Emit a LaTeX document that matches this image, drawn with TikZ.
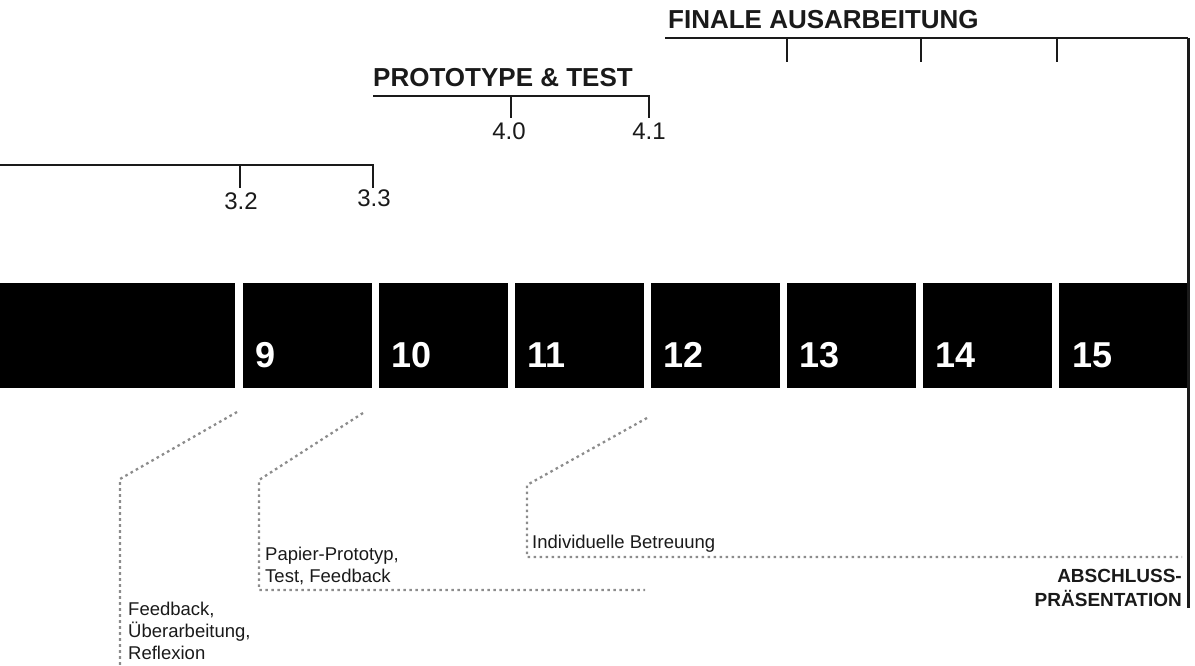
\documentclass[tikz,border=0pt]{standalone}
\usepackage{fontspec}
\setmainfont{Liberation Sans}
\definecolor{ink}{HTML}{1A1A1A}
\definecolor{leadgray}{HTML}{8C8C8C}
\tikzset{
  weekbox/.style={fill=black,draw=none,inner sep=0pt,minimum height=105pt,anchor=north west},
  weeknum/.style={text=white,font=\fontsize{36}{36}\selectfont\bfseries,anchor=base west,inner sep=0pt},
  phase/.style={text=ink,font=\fontsize{26}{26}\selectfont\bfseries,anchor=base west,inner sep=0pt},
  subnum/.style={text=ink,font=\fontsize{24}{24}\selectfont,anchor=base,inner sep=0pt},
  bracket/.style={draw=ink,line width=1.6pt},
  leader/.style={draw=leadgray,line width=2.3pt,dash pattern=on 2.6pt off 3.4pt},
  note/.style={text=ink,font=\fontsize{18.5}{22}\selectfont,align=left,anchor=base west,inner sep=0pt},
}
\begin{document}
\begin{tikzpicture}[x=1pt,y=-1pt]
\useasboundingbox (0,0) rectangle (1195,666);
% coordinates
\coordinate (A0) at (   0,165);%
\coordinate (A1) at ( 240,165);%
\coordinate (A2) at ( 373,165);%
\coordinate (B0) at ( 373, 96);%
\coordinate (B1) at ( 511, 96);%
\coordinate (B2) at ( 649, 96);%
\coordinate (C0) at ( 665, 38);%
\coordinate (C1) at ( 787, 38);%
\coordinate (C2) at ( 921, 38);%
\coordinate (C3) at (1057, 38);%
\coordinate (C4) at (1188, 38);%
\coordinate (CE) at (1188,608);%
% weeks
\node[weekbox,minimum width=235pt] (w0) at (0,283) {};
\foreach \n [count=\i from 0] in {9,...,14}{
  \node[weekbox,minimum width=129pt] (w\n) at ({243+136*\i},283) {};
  \node[weeknum] (l\n) at ([xshift=12pt,yshift=21pt]w\n.south west) {\n};
}
\node[weekbox,minimum width=128pt] (w15) at (1059,283) {};
\node[weeknum] (l15) at ([xshift=13pt,yshift=21pt]w15.south west) {15};
% brackets
\draw[bracket] (A0) -- (A2) -- ++(0,23);
\draw[bracket] (A1) -- ++(0,23);
\draw[bracket] (B0) -- (B2) -- ++(0,22);
\draw[bracket] (B1) -- ++(0,22);
\draw[bracket] (C0) -- (C4);
\draw[bracket] (C1) -- ++(0,24);
\draw[bracket] (C2) -- ++(0,24);
\draw[bracket] (C3) -- ++(0,24);
\draw[draw=ink,line width=3pt] (C4) -- (CE);
% labels
\node[subnum] (s32) at (241,209) {3.2};
\node[subnum] (s33) at (374,207) {3.3};
\node[subnum] (s40) at (509,140) {4.0};
\node[subnum] (s41) at (649,140) {4.1};
\node[phase] (p4) at (373,87) {PROTOTYPE \& TEST};
\node[phase] (p5) at (668,29) {FINALE AUSARBEITUNG};
% leaders
\coordinate (F0) at (237,412);%
\coordinate (F1) at (120,479);%
\coordinate (F2) at (120,666);%
\coordinate (G0) at (363,413);%
\coordinate (G1) at (259,480);%
\coordinate (G2) at (259,590);%
\coordinate (G3) at (645,590);%
\coordinate (H0) at (647,418);%
\coordinate (H1) at (527,485);%
\coordinate (H2) at (527,557);%
\coordinate (H3) at (1182,557);%
\draw[leader] (F0) -- (F1) -- (F2);
\draw[leader] (G0) -- (G1) -- (G2) -- (G3);
\draw[leader] (H0) -- (H1) -- (H2) -- (H3);
% notes
\node[note] (n1) at (128,659) {Feedback,\\Überarbeitung,\\Reflexion};
\node[note] (n2) at (265,582) {Papier-Prototyp,\\Test, Feedback};
\node[note] (n3) at (532,548) {Individuelle Betreuung};
\node[note,align=right,anchor=base east,font=\fontsize{19}{24}\selectfont\bfseries] (n4) at (1182,606) {ABSCHLUSS-\\PRÄSENTATION};
\end{tikzpicture}
\end{document}
